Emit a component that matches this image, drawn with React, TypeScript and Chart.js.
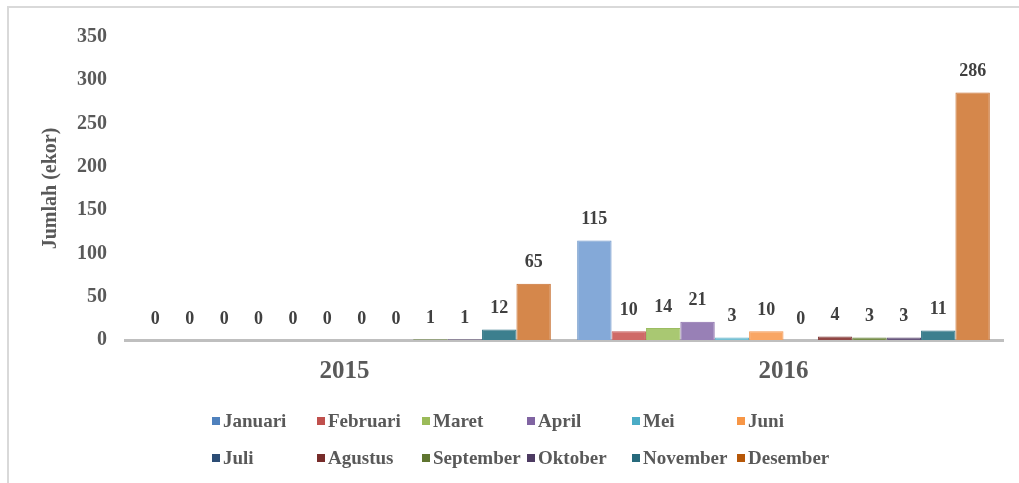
import React, { useEffect, useRef } from "react";
import { Chart, registerables } from "chart.js";

Chart.register(...registerables);

const years = ["2015", "2016"];
const months = ["Januari", "Februari", "Maret", "April", "Mei", "Juni", "Juli", "Agustus", "September", "Oktober", "November", "Desember"];
const values2015 = [0, 0, 0, 0, 0, 0, 0, 0, 1, 1, 12, 65];
const values2016 = [115, 10, 14, 21, 3, 10, 0, 4, 3, 3, 11, 286];
const legendColors = ["#4F81BD", "#C0504D", "#9BBB59", "#8064A2", "#4BACC6", "#F79646", "#2C4D75", "#772C2A", "#5F7530", "#4D3B62", "#276A7C", "#B65708"];
const fillColors = ["#84A9D8", "#CF6A67", "#A9C872", "#9880B6", "#74C0D3", "#F9A664", "#4D6A90", "#904644", "#768D48", "#67557C", "#3C7F8E", "#D5874B"];
const borderColors = ["#6C95C9", "#C45A57", "#9CBD62", "#8A6DAA", "#5DB2C9", "#F2934B", "#3B5A80", "#7E3836", "#66803B", "#57466E", "#2E7282", "#C76E2E"];
const yTicks = [0, 50, 100, 150, 200, 250, 300, 350];

const FONT = "'Liberation Serif', 'Times New Roman', serif";

const dataLabels = {
  id: "dataLabels",
  afterDatasetsDraw(chart: any) {
    const ctx = chart.ctx;
    ctx.save();
    ctx.font = `bold 18px ${FONT}`;
    ctx.fillStyle = "#404040";
    ctx.textAlign = "center";
    ctx.textBaseline = "middle";
    chart.data.datasets.forEach((ds: any, i: number) => {
      const meta = chart.getDatasetMeta(i);
      meta.data.forEach((el: any, j: number) => {
        ctx.fillText(String(ds.data[j]), el.x, el.y - 21);
      });
    });
    ctx.restore();
  },
};

const gridLegend = {
  id: "gridLegend",
  afterDraw(chart: any) {
    const ctx = chart.ctx;
    ctx.save();
    ctx.font = `bold 19px ${FONT}`;
    ctx.textBaseline = "middle";
    ctx.textAlign = "left";
    const cols = [212, 317, 422, 527, 632, 737];
    const rows = [421, 458];
    for (let r = 0; r < 2; r++) {
      let prevEnd = 0;
      for (let c = 0; c < 6; c++) {
        const k = r * 6 + c;
        const x = Math.max(cols[c], prevEnd + 2);
        const y = rows[r];
        ctx.fillStyle = legendColors[k];
        ctx.fillRect(x, y - 4, 8, 8);
        ctx.fillStyle = "#595959";
        const tx = x + 11;
        ctx.fillText(months[k], tx, y + 1);
        prevEnd = tx + ctx.measureText(months[k]).width;
      }
    }
    ctx.restore();
  },
};

export default function App() {
  const ref = useRef<HTMLCanvasElement | null>(null);
  useEffect(() => {
    if (!ref.current) return;
    const chart = new Chart(ref.current, {
      type: "bar",
      data: {
        labels: years,
        datasets: months.map((m, i) => ({
          label: m,
          data: [values2015[i], values2016[i]],
          backgroundColor: fillColors[i],
          borderColor: borderColors[i],
          borderWidth: 1,
          categoryPercentage: 0.94,
          barPercentage: 1,
        })),
      },
      options: {
        animation: false,
        responsive: false,
        devicePixelRatio: 1,
        layout: { padding: { top: 37, right: 16, bottom: 96, left: 29 } },
        plugins: {
          legend: { display: false },
          tooltip: { enabled: false },
        },
        scales: {
          x: {
            grid: { display: false, drawTicks: false },
            border: { display: true, color: "#BFBFBF", width: 3 },
            ticks: { padding: 17, color: "#595959", font: { family: FONT, size: 25, weight: "bold" } },
            afterFit: (s: any) => { s.height = 47; },
          },
          y: {
            min: 0,
            max: 350,
            afterBuildTicks: (s: any) => { s.ticks = yTicks.map((v) => ({ value: v })); },
            grid: { display: false, drawTicks: false },
            border: { display: false },
            ticks: { padding: 18, color: "#595959", font: { family: FONT, size: 20, weight: "bold" } },
            title: {
              display: true,
              text: "Jumlah (ekor)",
              color: "#595959",
              font: { family: FONT, size: 20, weight: "bold" },
              padding: { top: 10, bottom: 4 },
            },
            afterFit: (s: any) => { s.width = 96; },
          },
        },
      },
      plugins: [dataLabels, gridLegend],
    });
    return () => chart.destroy();
  }, []);
  return (
    <div style={{ position: "fixed", left: 0, top: 0, width: 1019, height: 483, background: "#fff", overflow: "hidden" }}>
      <div style={{ position: "absolute", left: 7, top: 6, width: 1030, height: 500, borderTop: "2px solid #D9D9D9", borderLeft: "2px solid #D9D9D9" }} />
      <canvas ref={ref} width={1019} height={483} style={{ position: "absolute", left: 0, top: 0 }} />
    </div>
  );
}
